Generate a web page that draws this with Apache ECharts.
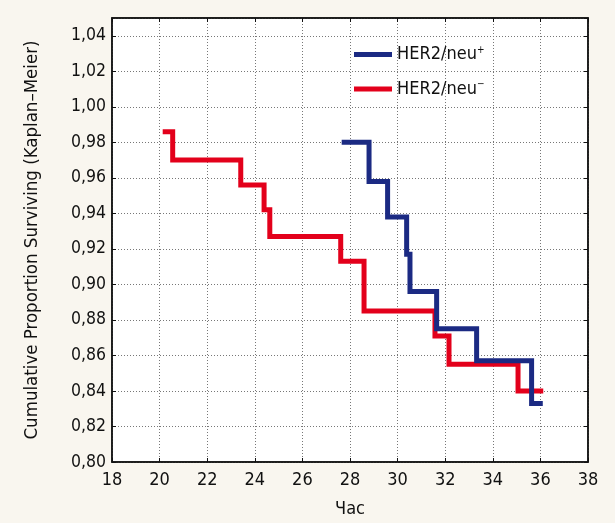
<!DOCTYPE html>
<html>
<head>
<meta charset="utf-8">
<script src="https://cdn.jsdelivr.net/npm/echarts@6/dist/echarts.min.js"></script>
<style>
html,body{margin:0;padding:0;background:#f9f6ef;}
#c{width:615px;height:523px;}
</style>
</head>
<body>
<div id="c"></div>
<script>
// Data (Kaplan–Meier steps)
const posTimes = [27.65, 28.8, 29.58, 30.38, 30.52, 31.64, 33.32, 35.63, 36.1];
const posSurv  = [0.980, 0.958, 0.938, 0.917, 0.896, 0.875, 0.857, 0.833, 0.833];
const negTimes = [20.13, 20.55, 23.41, 24.39, 24.63, 27.61, 28.59, 31.57, 32.16, 35.06, 36.12];
const negSurv  = [0.986, 0.970, 0.956, 0.942, 0.927, 0.913, 0.885, 0.871, 0.855, 0.840, 0.840];
const seriesNames = ['HER2/neu+', 'HER2/neu−'];
const xTitle = 'Час';
const yTitle = 'Cumulative Proportion Surviving (Kaplan–Meier)';

const FONT = '"Liberation Sans Narrow", "DejaVu Sans Condensed", sans-serif';
const pairs = (t, s) => t.map((v, i) => [v, s[i]]);

const chart = echarts.init(document.getElementById('c'), null, {renderer: 'canvas'});
const gridLine = {show: true, lineStyle: {color: '#777', type: [1, 2], width: 1}};
chart.setOption({
  backgroundColor: '#f9f6ef',
  animation: false,
  grid: {left: 112, top: 18, width: 476, height: 444, show: true, backgroundColor: '#fff', borderColor: '#111', borderWidth: 1.5},
  legend: {
    left: 349, top: 40, orient: 'vertical', itemGap: 16, itemWidth: 38, itemHeight: 5, icon: 'rect',
    data: seriesNames,
    formatter: n => n === seriesNames[0] ? '{b|HER2/neu}{s|+}' : '{b|HER2/neu}{s|−}',
    textStyle: {rich: {
      b: {fontFamily: FONT, fontSize: 18, color: '#111'},
      s: {fontFamily: FONT, fontSize: 10, color: '#111', verticalAlign: 'top', padding: [0,0,9,0]}
    }}
  },
  xAxis: [{
    type: 'value', min: 18, max: 38, interval: 2, position: 'bottom',
    name: xTitle, nameLocation: 'middle', nameGap: 38,
    nameTextStyle: {fontFamily: FONT, fontSize: 18, color: '#111'},
    axisLine: {show: true, lineStyle: {color: '#111', width: 1.5}},
    axisTick: {show: true, inside: true, length: 4, lineStyle: {color: '#111'}},
    axisLabel: {fontFamily: FONT, fontSize: 18, color: '#111', margin: 9},
    splitLine: gridLine
  }, {
    type: 'value', min: 18, max: 38, interval: 2, position: 'top',
    axisLine: {show: true, lineStyle: {color: '#111', width: 1.5}},
    axisTick: {show: true, inside: true, length: 4, lineStyle: {color: '#111'}},
    axisLabel: {show: false}, splitLine: {show: false}
  }],
  yAxis: [{
    type: 'value', min: 0.8, max: 1.05, interval: 0.02, position: 'left',
    name: yTitle, nameLocation: 'middle', nameGap: 70, nameRotate: 90,
    nameTextStyle: {fontFamily: FONT, fontSize: 18.5, color: '#111'},
    axisLine: {show: true, lineStyle: {color: '#111', width: 1.5}},
    axisTick: {show: true, inside: true, length: 4, lineStyle: {color: '#111'}},
    axisLabel: {fontFamily: FONT, fontSize: 17.5, color: '#111', margin: 6, showMaxLabel: false,
      formatter: v => v.toFixed(2).replace('.', ',')},
    splitLine: gridLine
  }, {
    type: 'value', min: 0.8, max: 1.05, interval: 0.02, position: 'right',
    axisLine: {show: true, lineStyle: {color: '#111', width: 1.5}},
    axisTick: {show: true, inside: true, length: 4, lineStyle: {color: '#111'}},
    axisLabel: {show: false}, splitLine: {show: false}
  }],
  series: [{
    name: seriesNames[0], type: 'line', step: 'end', data: pairs(posTimes, posSurv),
    showSymbol: false, symbol: 'none', color: '#1b2a83',
    lineStyle: {width: 5, color: '#1b2a83', cap: 'butt', join: 'miter'}, z: 3
  }, {
    name: seriesNames[1], type: 'line', step: 'end', data: pairs(negTimes, negSurv),
    showSymbol: false, symbol: 'none', color: '#e3001b',
    lineStyle: {width: 5, color: '#e3001b', cap: 'butt', join: 'miter'}, z: 2
  }]
});
</script>
</body>
</html>
